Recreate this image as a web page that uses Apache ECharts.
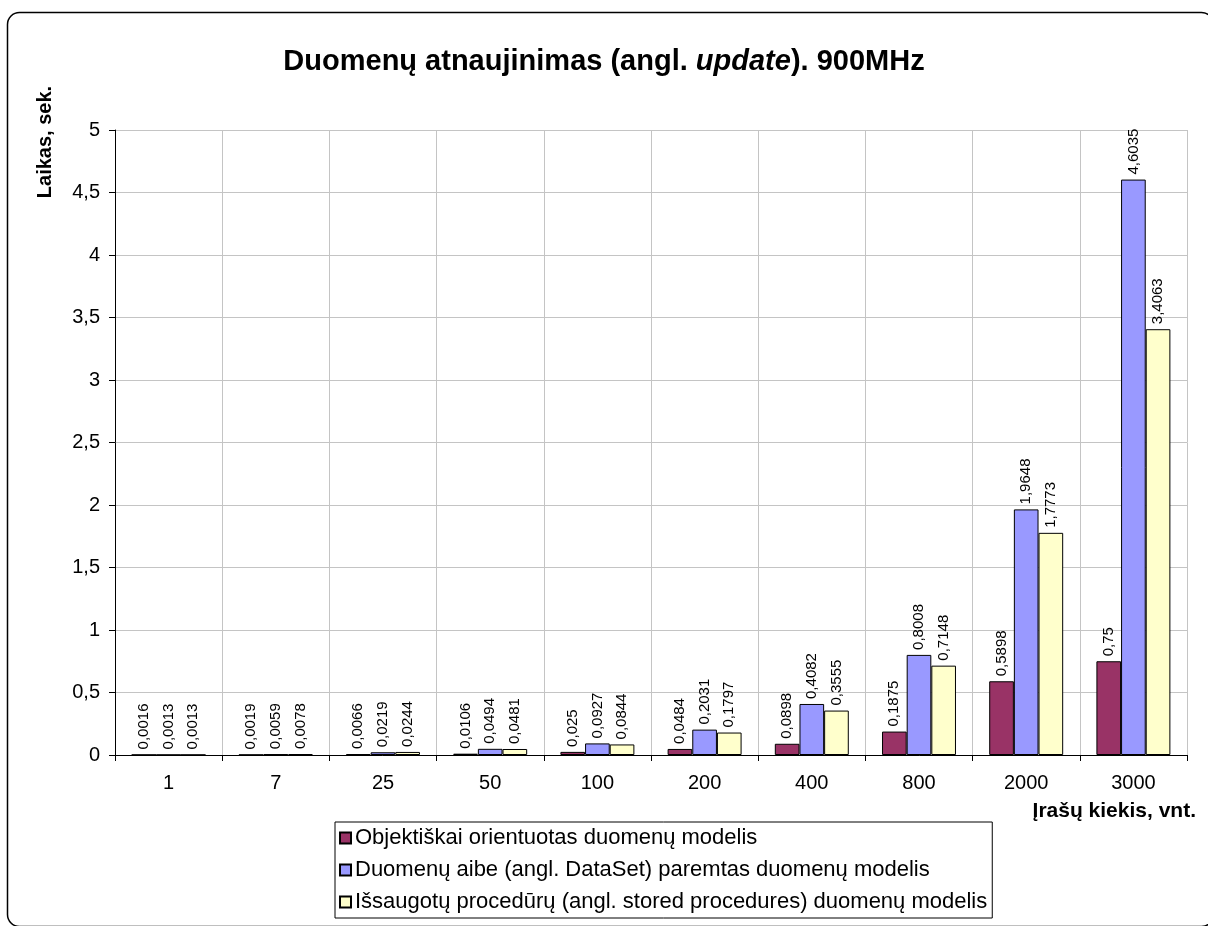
<!DOCTYPE html>
<html>
<head>
<meta charset="utf-8">
<script src="https://cdn.jsdelivr.net/npm/echarts@6/dist/echarts.min.js"></script>
<style>
  html, body { margin: 0; padding: 0; background: #fff; }
  #chart { width: 1208px; height: 926px; }
</style>
</head>
<body>
<div id="chart"></div>
<script>
// Record counts (categories)
const categories = ['1', '7', '25', '50', '100', '200', '400', '800', '2000', '3000'];

// Update times in seconds for each data model
const objectModel = [0.0016, 0.0019, 0.0066, 0.0106, 0.025, 0.0484, 0.0898, 0.1875, 0.5898, 0.75];
const dataSetModel = [0.0013, 0.0059, 0.0219, 0.0494, 0.0927, 0.2031, 0.4082, 0.8008, 1.9648, 4.6035];
const storedProcModel = [0.0013, 0.0078, 0.0244, 0.0481, 0.0844, 0.1797, 0.3555, 0.7148, 1.7773, 3.4063];

const seriesNames = [
  'Objektiškai orientuotas duomenų modelis',
  'Duomenų aibe (angl. DataSet) paremtas duomenų modelis',
  'Išsaugotų procedūrų (angl. stored procedures) duomenų modelis'
];
const seriesColors = ['#993366', '#9999FF', '#FFFFCC'];

const FONT = '"Liberation Sans", Arial, sans-serif';
const comma = v => String(v).replace('.', ',');

function barSeries(name, data, color) {
  return {
    name: name,
    type: 'bar',
    data: data,
    barGap: '0%',
    barCategoryGap: '31%',
    itemStyle: { color: color, borderColor: '#000', borderWidth: 1 },
    label: {
      show: true,
      position: 'top',
      rotate: 90,
      align: 'left',
      verticalAlign: 'middle',
      distance: 5,
      fontFamily: FONT,
      fontSize: 15,
      color: '#000',
      formatter: p => comma(p.value)
    }
  };
}

const chart = echarts.init(document.getElementById('chart'));
chart.setOption({
  animation: false,
  backgroundColor: '#fff',
  title: {
    text: '{b|Duomenų atnaujinimas (angl. }{i|update}{b|). 900MHz}',
    left: 'center',
    top: 42,
    textStyle: {
      rich: {
        b: { fontFamily: FONT, fontSize: 29, fontWeight: 'bold', color: '#000' },
        i: { fontFamily: FONT, fontSize: 29, fontWeight: 'bold', fontStyle: 'italic', color: '#000' }
      }
    }
  },
  grid: { left: 115, right: 21, top: 130, bottom: 171, containLabel: false },
  legend: {
    orient: 'vertical',
    left: 335,
    top: 822,
    padding: [5, 5, 5, 4],
    itemGap: 10,
    itemWidth: 11,
    itemHeight: 11,
    borderColor: '#000',
    borderWidth: 1,
    icon: 'rect',
    textStyle: { fontFamily: FONT, fontSize: 22, color: '#000', padding: [0, 0, 0, -1] },
    data: seriesNames
  },
  xAxis: {
    type: 'category',
    data: categories,
    axisLine: { lineStyle: { color: '#000', width: 1 } },
    axisTick: { show: true, length: 6, lineStyle: { color: '#000' } },
    axisLabel: { fontFamily: FONT, fontSize: 20, color: '#000', margin: 18 },
    splitLine: { show: true, lineStyle: { color: '#c4c4c4', width: 1 } }
  },
  yAxis: {
    type: 'value',
    min: 0,
    max: 5,
    interval: 0.5,
    axisLine: { show: true, lineStyle: { color: '#000', width: 1 } },
    axisTick: { show: true, length: 6, lineStyle: { color: '#000' } },
    axisLabel: { fontFamily: FONT, fontSize: 20, color: '#000', margin: 15, formatter: v => comma(v) },
    splitLine: { show: true, lineStyle: { color: '#c4c4c4', width: 1 } }
  },
  graphic: [
    {
      type: 'rect',
      shape: { x: 7.5, y: 12.5, width: 1206, height: 914, r: 12 },
      style: { fill: 'none', stroke: '#000', lineWidth: 1.5 },
      silent: true
    },
    {
      type: 'text',
      x: 45, y: 142,
      rotation: Math.PI / 2,
      style: {
        text: 'Laikas, sek.',
        fontFamily: FONT, fontSize: 20, fontWeight: 'bold', fill: '#000',
        textAlign: 'center', textVerticalAlign: 'middle'
      }
    },
    {
      type: 'text',
      x: 1196, y: 811,
      style: {
        text: 'Įrašų kiekis, vnt.',
        fontFamily: FONT, fontSize: 21, fontWeight: 'bold', fill: '#000',
        textAlign: 'right', textVerticalAlign: 'middle'
      }
    }
  ],
  series: [
    barSeries(seriesNames[0], objectModel, seriesColors[0]),
    barSeries(seriesNames[1], dataSetModel, seriesColors[1]),
    barSeries(seriesNames[2], storedProcModel, seriesColors[2])
  ]
});
</script>
</body>
</html>
